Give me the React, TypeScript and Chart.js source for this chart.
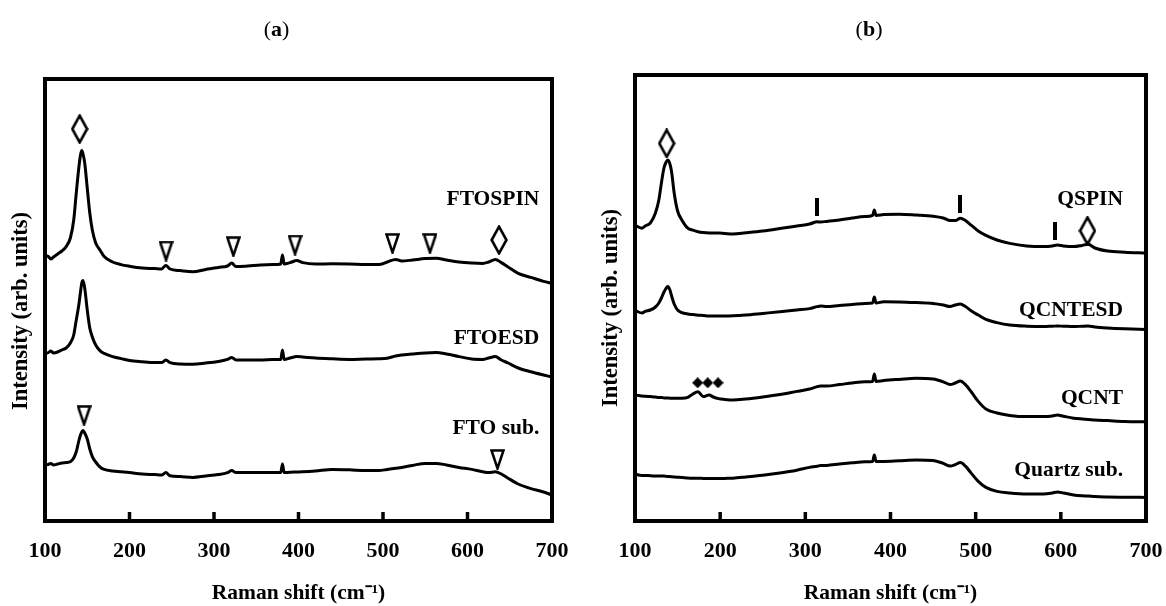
import React, { useEffect, useRef } from 'react';
import { Chart, registerables } from 'chart.js';

Chart.register(...registerables);

const FONT = "'Liberation Serif', 'Times New Roman', Times, serif";

// ---------- Panel (a): FTO samples ----------
const shiftA = [100, 103, 107, 110, 115, 120, 125, 130, 134, 137, 140, 142, 143.5, 145, 147, 150, 153, 156, 160, 165, 170, 180, 190, 200, 215, 230, 238, 243, 248, 260, 275, 290, 305, 316, 321, 326, 340, 355, 370, 379, 381, 383, 390, 398, 405, 420, 440, 460, 480, 495, 505, 515, 522, 535, 550, 563, 575, 590, 605, 618, 625, 633, 640, 648, 660, 675, 690, 700];

const ftoSpin = [66.0, 66.25, 65.5, 66.0, 66.75, 67.5, 68.6, 70.75, 75.25, 82.0, 88.25, 91.5, 92.6, 91.75, 89.5, 83.25, 77.0, 72.75, 69.5, 67.75, 66.1, 64.75, 64.1, 63.7, 63.25, 63.1, 63.0, 63.9, 63.0, 62.6, 62.3, 62.9, 63.4, 63.75, 64.5, 63.6, 63.75, 64.0, 64.1, 64.25, 66.5, 64.25, 64.6, 65.1, 64.6, 64.25, 64.3, 64.25, 64.1, 64.1, 64.75, 65.4, 65.0, 65.25, 65.6, 65.7, 65.25, 64.75, 64.5, 64.4, 64.75, 65.4, 64.6, 63.5, 61.9, 60.9, 59.9, 59.4];

const ftoEsd = [42.0, 42.0, 42.5, 42.0, 42.25, 42.75, 43.25, 44.5, 46.5, 50.25, 54.0, 57.25, 59.5, 60.1, 58.25, 52.75, 48.25, 46.0, 44.0, 42.6, 41.9, 41.1, 40.6, 40.1, 39.8, 39.6, 39.6, 40.25, 39.6, 39.25, 39.2, 39.5, 39.9, 40.4, 40.9, 40.25, 40.25, 40.25, 40.4, 40.4, 42.75, 40.4, 40.75, 41.1, 41.0, 40.75, 40.55, 40.4, 40.5, 40.55, 40.7, 41.25, 41.5, 41.75, 42.0, 42.1, 41.75, 41.1, 40.5, 40.4, 40.75, 41.1, 40.25, 39.5, 38.25, 37.3, 36.5, 36.0];

const ftoSub = [14.0, 14.1, 14.4, 14.0, 14.25, 14.5, 14.6, 14.8, 15.75, 17.3, 20.0, 21.5, 22.25, 22.6, 22.0, 20.5, 18.0, 16.1, 14.75, 13.5, 12.9, 12.5, 12.3, 12.1, 11.75, 11.6, 11.5, 12.1, 11.3, 11.1, 10.9, 11.25, 11.6, 12.1, 12.6, 12.1, 12.1, 12.1, 12.1, 12.1, 14.25, 12.1, 12.2, 12.25, 12.3, 12.5, 12.9, 12.8, 12.6, 12.6, 12.9, 13.2, 13.4, 13.9, 14.4, 14.4, 14.0, 13.4, 12.9, 12.3, 12.1, 12.3, 11.75, 10.7, 9.25, 8.1, 7.25, 6.5];

const diamondsAx = [141, 637.3];
const diamondsAy = [98.0, 70.25];
const trianglesAx = [243.2, 322.9, 395.9, 511.2, 555.6, 146.2, 635.5];
const trianglesAy = [67.5, 68.6, 69.0, 69.4, 69.4, 26.4, 15.4];

const labelsA = ['FTOSPIN', 'FTOESD', 'FTO sub.'];
const labelsAy = [80.5, 45.75, 23.25];
const labelsAx = 685;

// ---------- Panel (b): Quartz samples ----------
const shiftB = [100, 104, 108, 112, 118, 124, 128, 131, 134, 136, 138.5, 141, 143, 146, 150, 155, 162, 168, 174, 180, 187, 192, 198, 205, 215, 230, 250, 270, 290, 305, 314, 318, 325, 340, 355, 370, 379, 381, 383, 392, 410, 430, 450, 462, 470, 476, 482, 488, 495, 503, 512, 525, 540, 560, 580, 590, 596, 603, 615, 625, 632, 640, 655, 675, 700];

const qSpin = [74.0, 73.5, 73.2, 73.75, 74.5, 77.0, 80.25, 84.5, 88.25, 89.5, 90.25, 89.25, 87.25, 82.0, 77.5, 75.25, 73.2, 72.7, 72.3, 72.1, 72.0, 72.0, 72.0, 71.9, 71.75, 72.05, 72.5, 73.1, 73.75, 74.25, 74.8, 74.75, 74.9, 75.25, 75.75, 76.1, 76.4, 77.75, 76.4, 76.6, 76.7, 76.5, 76.2, 75.75, 75.1, 75.1, 75.7, 75.1, 73.9, 72.5, 71.4, 70.25, 69.4, 68.75, 68.6, 68.75, 69.0, 68.75, 68.6, 68.9, 69.2, 68.25, 67.5, 67.2, 67.0];

const qCntEsd = [52.75, 52.25, 52.0, 52.4, 52.75, 53.5, 54.5, 55.75, 57.25, 58.0, 58.6, 57.75, 56.25, 54.25, 52.75, 52.1, 51.75, 51.6, 51.45, 51.4, 51.25, 51.25, 51.25, 51.25, 51.3, 51.5, 51.9, 52.3, 52.75, 53.1, 53.6, 53.75, 53.6, 53.9, 54.1, 54.4, 54.5, 56.0, 54.5, 54.8, 54.75, 54.6, 54.4, 54.0, 53.6, 54.0, 54.25, 53.6, 52.5, 51.5, 50.4, 49.6, 49.0, 48.7, 48.6, 48.7, 48.75, 48.7, 48.6, 48.7, 48.75, 48.5, 48.25, 48.05, 47.9];

const qCnt = [31.5, 31.4, 31.25, 31.2, 31.1, 31.0, 30.9, 30.9, 30.75, 30.75, 30.75, 30.7, 30.7, 30.7, 30.7, 30.7, 30.9, 31.75, 32.3, 31.1, 31.5, 31.0, 30.6, 30.4, 30.25, 30.5, 31.0, 31.6, 32.4, 33.0, 33.6, 33.75, 33.75, 34.1, 34.5, 34.8, 34.9, 36.75, 34.9, 35.1, 35.4, 35.7, 35.5, 34.8, 34.1, 34.5, 35.0, 34.1, 32.25, 29.9, 28.0, 27.0, 26.4, 26.1, 26.1, 26.25, 26.5, 26.2, 25.7, 25.5, 25.4, 25.25, 25.1, 24.9, 24.8];

const quartzSub = [11.9, 11.5, 11.4, 11.4, 11.3, 11.25, 11.25, 11.25, 11.25, 11.2, 11.1, 11.1, 11.05, 11.0, 10.95, 10.9, 10.75, 10.7, 10.7, 10.65, 10.6, 10.6, 10.6, 10.65, 10.7, 11.0, 11.45, 12.0, 12.7, 13.4, 13.7, 13.9, 13.9, 14.25, 14.55, 14.8, 14.9, 16.5, 14.9, 14.9, 15.05, 15.25, 15.1, 14.4, 13.75, 14.1, 14.6, 13.7, 11.9, 9.9, 8.4, 7.4, 7.0, 6.75, 6.75, 7.0, 7.25, 7.0, 6.5, 6.3, 6.25, 6.1, 6.0, 5.95, 5.9];

const diamondsBx = [137.2, 631.3];
const diamondsBy = [94.4, 72.55];
const barsBx = [313.7, 481.3, 593.5];
const barsBy = [78.6, 79.3, 72.6];
const solidDiamondsBx = [173.6, 185.4, 197.5];
const solidDiamondsBy = [34.55, 34.55, 34.55];

const labelsB = ['QSPIN', 'QCNTESD', 'QCNT', 'Quartz sub.'];
const labelsBy = [80.4, 52.75, 30.75, 12.75];
const labelsBx = 673;

const xTicks = [100, 200, 300, 400, 500, 600, 700];
const xTitle = 'Raman shift (cm\u207B\u00B9)';
const yTitle = 'Intensity (arb. units)';

// ---------- marker glyphs ----------
function makeMarker(kind: string): HTMLCanvasElement {
  const c = document.createElement('canvas');
  if (kind === 'openDiamond') {
    c.width = 18; c.height = 30;
    const g = c.getContext('2d')!;
    g.beginPath();
    g.moveTo(9, 1.6); g.lineTo(16.4, 15); g.lineTo(9, 28.4); g.lineTo(1.6, 15); g.closePath();
    g.fillStyle = '#fff'; g.fill();
    g.lineWidth = 2.6; g.strokeStyle = '#000'; g.stroke();
  } else if (kind === 'openTriangle') {
    c.width = 15; c.height = 21;
    const g = c.getContext('2d')!;
    g.beginPath();
    g.moveTo(1.5, 1.5); g.lineTo(13.5, 1.5); g.lineTo(7.5, 19.5); g.closePath();
    g.fillStyle = '#fff'; g.fill();
    g.lineWidth = 2.5; g.strokeStyle = '#000'; g.stroke();
  } else if (kind === 'bar') {
    c.width = 4; c.height = 18;
    const g = c.getContext('2d')!;
    g.fillStyle = '#000'; g.fillRect(0, 0, 4, 18);
  } else {
    c.width = 11; c.height = 11;
    const g = c.getContext('2d')!;
    g.beginPath();
    g.moveTo(5.5, 0); g.lineTo(11, 5.5); g.lineTo(5.5, 11); g.lineTo(0, 5.5); g.closePath();
    g.fillStyle = '#000'; g.fill();
  }
  return c;
}

const framePlugin = {
  id: 'frameAndLabels',
  afterDraw(chart: any, _args: any, opts: any) {
    const { ctx, chartArea: a, scales } = chart;
    const xs = scales.x;
    const ys = scales.y;
    ctx.save();
    ctx.strokeStyle = '#000';
    ctx.lineWidth = 3.5;
    xs.ticks.forEach((t: any) => {
      if (t.value > xs.min && t.value < xs.max) {
        const px = xs.getPixelForValue(t.value);
        ctx.beginPath();
        ctx.moveTo(px, a.bottom);
        ctx.lineTo(px, a.bottom - 9);
        ctx.stroke();
      }
    });
    ctx.lineWidth = 4;
    ctx.strokeRect(a.left, a.top, a.right - a.left, a.bottom - a.top);
    ctx.fillStyle = '#000';
    ctx.font = `bold 21.5px ${FONT}`;
    ctx.textAlign = 'right';
    ctx.textBaseline = 'middle';
    (opts.labels || []).forEach((txt: string, i: number) => {
      ctx.fillText(txt, xs.getPixelForValue(opts.x), ys.getPixelForValue(opts.ys[i]));
    });
    // rotated y-axis title
    ctx.translate(opts.yTitleX, (a.top + a.bottom) / 2 + opts.yTitleShift);
    ctx.rotate(-Math.PI / 2);
    ctx.textAlign = 'center';
    ctx.font = `bold 22.5px ${FONT}`;
    ctx.fillText(yTitle, 0, 0);
    ctx.restore();
  },
};

function lineSet(xs: number[], ys: number[]) {
  return {
    type: 'line',
    data: xs.map((x, i) => ({ x, y: ys[i] })),
    borderColor: '#000',
    borderWidth: 3,
    pointRadius: 0,
    fill: false,
    cubicInterpolationMode: 'monotone',
    order: 2,
  };
}

function markerSet(xs: number[], ys: number[], style: HTMLCanvasElement) {
  return {
    type: 'scatter',
    data: xs.map((x, i) => ({ x, y: ys[i] })),
    pointStyle: style,
    pointRadius: 6,
    showLine: false,
    order: 0,
  };
}

function buildConfig(p: any) {
  const tickFont = { family: FONT, size: 22, weight: 'bold' as const, lineHeight: 2.8 };
  const titleFont = { family: FONT, size: 21.5, weight: 'bold' as const };
  return {
    type: 'line',
    data: { datasets: p.datasets },
    plugins: [framePlugin],
    options: {
      animation: false,
      responsive: false,
      devicePixelRatio: 1,
      layout: { padding: { left: 0, top: p.top, right: p.right, bottom: 0 } },
      plugins: {
        legend: { display: false },
        tooltip: { enabled: false },
        frameAndLabels: { labels: p.labels, ys: p.labelYs, x: p.labelX, yTitleX: p.yTitleX, yTitleShift: p.yTitleShift },
      },
      scales: {
        x: {
          type: 'linear',
          min: 100,
          max: 700,
          afterFit: (s: any) => { s.height = 85; },
          afterBuildTicks: (s: any) => { s.ticks = xTicks.map((v) => ({ value: v })); },
          grid: { display: false, drawTicks: false },
          border: { display: false },
          ticks: { padding: 0, font: tickFont, color: '#000', maxRotation: 0, autoSkip: false },
          title: { display: true, text: xTitle, font: titleFont, color: '#000', padding: { top: 0, bottom: 0 } },
        },
        y: {
          type: 'linear',
          min: 0,
          max: p.ymax,
          afterFit: (s: any) => { s.width = p.yWidth; },
          grid: { display: false, drawTicks: false },
          border: { display: false },
          ticks: { display: false },
          title: { display: false },
        },
      },
    },
  };
}

export default function App() {
  const refA = useRef<HTMLCanvasElement>(null);
  const refB = useRef<HTMLCanvasElement>(null);

  useEffect(() => {
    const openDiamond = makeMarker('openDiamond');
    const openTriangle = makeMarker('openTriangle');
    const bar = makeMarker('bar');
    const solidDiamond = makeMarker('solidDiamond');

    const cfgA = buildConfig({
      top: 79, right: 31, ymax: 110.5, yWidth: 45, yTitleX: 21, yTitleShift: 11,
      labels: labelsA, labelYs: labelsAy, labelX: labelsAx,
      datasets: [
        markerSet(diamondsAx, diamondsAy, openDiamond),
        markerSet(trianglesAx, trianglesAy, openTriangle),
        lineSet(shiftA, ftoSpin),
        lineSet(shiftA, ftoEsd),
        lineSet(shiftA, ftoSub),
      ],
    });
    const cfgB = buildConfig({
      top: 75, right: 20, ymax: 111.5, yWidth: 52, yTitleX: 28, yTitleShift: 10,
      labels: labelsB, labelYs: labelsBy, labelX: labelsBx,
      datasets: [
        markerSet(diamondsBx, diamondsBy, openDiamond),
        markerSet(barsBx, barsBy, bar),
        markerSet(solidDiamondsBx, solidDiamondsBy, solidDiamond),
        lineSet(shiftB, qSpin),
        lineSet(shiftB, qCntEsd),
        lineSet(shiftB, qCnt),
        lineSet(shiftB, quartzSub),
      ],
    });
    const a = new Chart(refA.current as HTMLCanvasElement, cfgA as any);
    const b = new Chart(refB.current as HTMLCanvasElement, cfgB as any);
    return () => { a.destroy(); b.destroy(); };
  }, []);

  const titleStyle = (left: number): React.CSSProperties => ({
    position: 'absolute', left, top: 15, width: 100, textAlign: 'center',
    fontFamily: FONT, fontSize: 22, lineHeight: '28px', color: '#000',
  });

  return (
    <div style={{ position: 'absolute', left: 0, top: 0, width: 1166, height: 606, background: '#fff', overflow: 'hidden' }}>
      <canvas ref={refA} width={583} height={606} style={{ position: 'absolute', left: 0, top: 0, width: 583, height: 606 }} />
      <canvas ref={refB} width={583} height={606} style={{ position: 'absolute', left: 583, top: 0, width: 583, height: 606 }} />
      <div style={titleStyle(226.5)}>(<b>a</b>)</div>
      <div style={titleStyle(819)}>(<b>b</b>)</div>
    </div>
  );
}
